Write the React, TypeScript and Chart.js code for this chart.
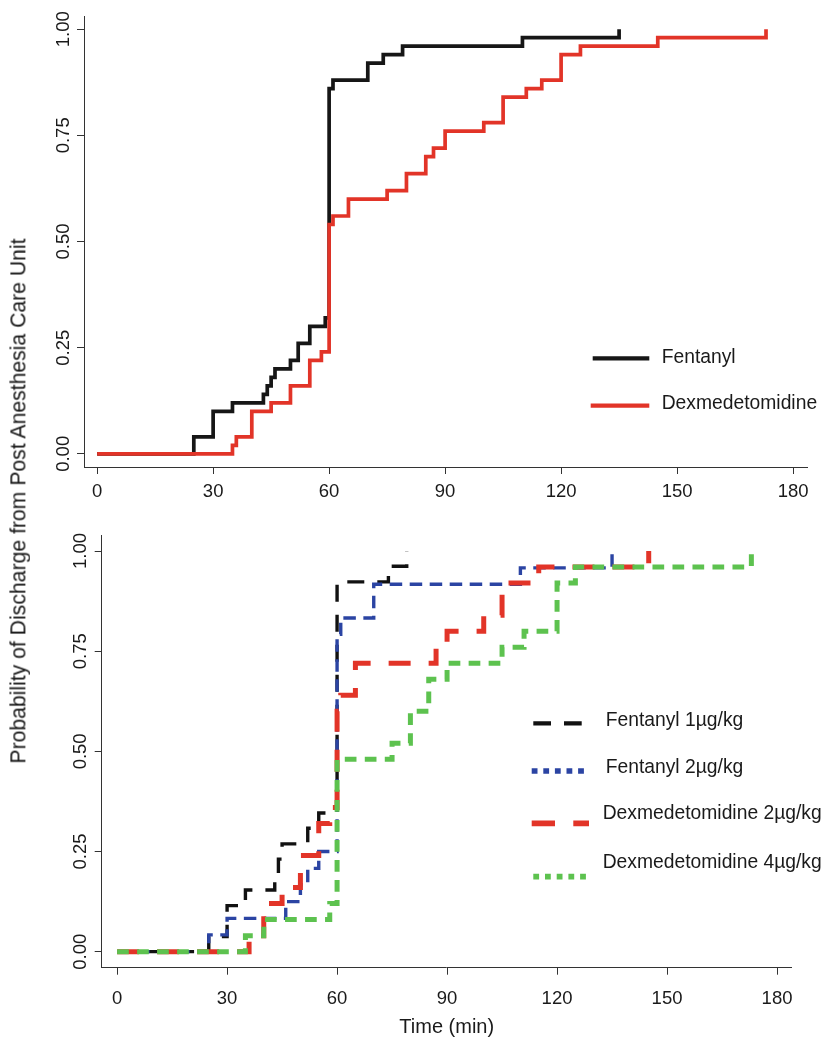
import React, { useEffect, useRef } from "react";
import { Chart, registerables } from "chart.js";

Chart.register(...registerables);

// ---------------- DATA ----------------
const X_TICKS = [0, 30, 60, 90, 120, 150, 180];
const Y_TICKS = [0, 0.25, 0.5, 0.75, 1.0];

// Upper panel (pooled groups)
const FENT_TIME = [0, 25, 30, 35, 43, 44, 45, 46, 50, 52, 55, 59, 60, 61, 70, 74, 79, 110, 135];
const FENT_PROB = [0, 0.04, 0.1, 0.12, 0.14, 0.16, 0.18, 0.2, 0.22, 0.26, 0.3, 0.32, 0.86, 0.88, 0.92, 0.94, 0.96, 0.98, 1.0];
const DEX_TIME = [0, 35, 36, 40, 45, 50, 55, 58, 60, 61, 65, 75, 80, 85, 87, 90, 100, 105, 111, 115, 120, 125, 145, 173];
const DEX_PROB = [0, 0.02, 0.04, 0.1, 0.12, 0.16, 0.22, 0.24, 0.54, 0.56, 0.6, 0.62, 0.66, 0.7, 0.72, 0.76, 0.78, 0.84, 0.86, 0.88, 0.94, 0.96, 0.98, 1.0];

// Lower panel (dose groups)
const F1_TIME = [0, 25, 30, 35, 43, 44, 45, 52, 55, 60, 74, 79];
const F1_PROB = [0, 0.038, 0.115, 0.154, 0.192, 0.231, 0.269, 0.308, 0.346, 0.923, 0.962, 1.0];
const F2_TIME = [0, 25, 30, 46, 50, 52, 55, 60, 61, 70, 110, 135];
const F2_PROB = [0, 0.042, 0.083, 0.125, 0.167, 0.208, 0.25, 0.792, 0.833, 0.917, 0.958, 1.0];
const D2_TIME = [0, 36, 40, 45, 50, 55, 58, 60, 61, 65, 87, 90, 100, 105, 115, 145];
const D2_PROB = [0, 0.04, 0.12, 0.16, 0.24, 0.32, 0.36, 0.6, 0.64, 0.72, 0.76, 0.8, 0.84, 0.92, 0.96, 1.0];
const D4_TIME = [0, 35, 40, 58, 60, 75, 80, 85, 90, 105, 111, 120, 125, 173];
const D4_PROB = [0, 0.04, 0.08, 0.12, 0.48, 0.52, 0.6, 0.68, 0.72, 0.76, 0.8, 0.92, 0.96, 1.0];

const TOP_LABELS = ["Fentanyl", "Dexmedetomidine"];
const BOTTOM_LABELS = ["Fentanyl 1\u00b5g/kg", "Fentanyl 2\u00b5g/kg", "Dexmedetomidine 2\u00b5g/kg", "Dexmedetomidine 4\u00b5g/kg"];
const Y_TITLE = "Probability of Discharge from Post Anesthesia Care Unit";
const X_TITLE = "Time (min)";

// ---------------- STYLE ----------------
const FONT = "'Liberation Sans', Arial, Helvetica, sans-serif";
const TEXT = "#1a1a1a";
const AXIS = "#333333";

type Series = {
  label: string;
  time: number[];
  prob: number[];
  color: string;
  width: number;
  dash: number[];
  order: number;
};

type LegendItem = {
  label: string;
  color: string;
  width: number;
  dash: number[];
  x1: number;
  x2: number;
  y: number;
  tx: number;
  ty: number;
};

type PanelCfg = {
  series: Series[];
  xMin: number;
  xMax: number;
  yMin: number;
  yMax: number;
  yWidth: number;
  xHeight: number;
  padTop: number;
  padRight: number;
  xTickPad: number;
  yTickPad: number;
  xTitle?: string;
  legend: LegendItem[];
};

function legendPlugin(items: LegendItem[]) {
  return {
    id: "manualLegend",
    afterDraw(chart: any) {
      const ctx = chart.ctx as CanvasRenderingContext2D;
      ctx.save();
      items.forEach((it) => {
        ctx.beginPath();
        ctx.setLineDash(it.dash);
        ctx.lineWidth = it.width;
        ctx.strokeStyle = it.color;
        ctx.lineCap = "butt";
        ctx.moveTo(it.x1, it.y);
        ctx.lineTo(it.x2, it.y);
        ctx.stroke();
        ctx.setLineDash([]);
        ctx.fillStyle = TEXT;
        ctx.font = `19.3px ${FONT}`;
        ctx.textAlign = "left";
        ctx.textBaseline = "middle";
        ctx.fillText(it.label, it.tx, it.ty);
      });
      ctx.restore();
    },
  };
}

function buildConfig(p: PanelCfg): any {
  return {
    type: "line",
    data: {
      datasets: p.series.map((s) => ({
        label: s.label,
        data: s.time.map((t, i) => ({ x: t, y: s.prob[i] })),
        borderColor: s.color,
        backgroundColor: s.color,
        borderWidth: s.width,
        borderDash: s.dash,
        borderCapStyle: "butt",
        borderJoinStyle: "miter",
        stepped: "before",
        pointRadius: 0,
        pointHoverRadius: 0,
        fill: false,
        tension: 0,
        order: s.order,
      })),
    },
    options: {
      animation: false,
      responsive: false,
      maintainAspectRatio: false,
      events: [],
      layout: { padding: { top: p.padTop, right: p.padRight, left: 0, bottom: 0 } },
      plugins: {
        legend: { display: false },
        tooltip: { enabled: false },
        title: { display: false },
      },
      scales: {
        x: {
          type: "linear",
          min: p.xMin,
          max: p.xMax,
          afterBuildTicks: (s: any) => {
            s.ticks = X_TICKS.map((v) => ({ value: v }));
          },
          afterFit: (s: any) => {
            s.height = p.xHeight;
          },
          grid: {
            display: true,
            drawOnChartArea: false,
            drawTicks: true,
            tickLength: 7,
            color: AXIS,
            lineWidth: 1,
          },
          border: { display: true, color: AXIS, width: 1 },
          ticks: {
            color: TEXT,
            font: { family: FONT, size: 18.5 },
            padding: p.xTickPad,
            maxRotation: 0,
            minRotation: 0,
            callback: (v: any) => String(v),
          },
          title: p.xTitle
            ? {
                display: true,
                text: p.xTitle,
                color: TEXT,
                font: { family: FONT, size: 20 },
                padding: { top: 0, bottom: 0 },
              }
            : { display: false },
        },
        y: {
          type: "linear",
          min: p.yMin,
          max: p.yMax,
          afterBuildTicks: (s: any) => {
            s.ticks = Y_TICKS.map((v) => ({ value: v }));
          },
          afterFit: (s: any) => {
            s.width = p.yWidth;
          },
          grid: {
            display: true,
            drawOnChartArea: false,
            drawTicks: true,
            tickLength: 7,
            color: AXIS,
            lineWidth: 1,
          },
          border: { display: true, color: AXIS, width: 1 },
          ticks: {
            color: TEXT,
            font: { family: FONT, size: 18.5 },
            padding: p.yTickPad,
            minRotation: 90,
            maxRotation: 90,
            crossAlign: "center",
            callback: (v: any) => Number(v).toFixed(2),
          },
        },
      },
    },
    plugins: [legendPlugin(p.legend)],
  };
}

const TOP_SERIES: Series[] = [
  { label: TOP_LABELS[0], time: FENT_TIME, prob: FENT_PROB, color: "#161616", width: 3.7, dash: [], order: 2 },
  { label: TOP_LABELS[1], time: DEX_TIME, prob: DEX_PROB, color: "#e23428", width: 3.7, dash: [], order: 1 },
];

const BOTTOM_SERIES: Series[] = [
  { label: BOTTOM_LABELS[0], time: F1_TIME, prob: F1_PROB, color: "#111111", width: 3.4, dash: [17, 13], order: 4 },
  { label: BOTTOM_LABELS[1], time: F2_TIME, prob: F2_PROB, color: "#2b44a3", width: 3.4, dash: [12.5, 7.5], order: 3 },
  { label: BOTTOM_LABELS[2], time: D2_TIME, prob: D2_PROB, color: "#e23428", width: 5, dash: [22, 18], order: 2 },
  { label: BOTTOM_LABELS[3], time: D4_TIME, prob: D4_PROB, color: "#5dc24f", width: 5, dash: [11.7, 8.3], order: 1 },
];

const TOP_LEGEND: LegendItem[] = [
  { label: TOP_LABELS[0], color: "#161616", width: 4.3, dash: [], x1: 592.7, x2: 649.3, y: 358.3, tx: 661.7, ty: 357.5 },
  { label: TOP_LABELS[1], color: "#e23428", width: 4.3, dash: [], x1: 590.7, x2: 649.3, y: 405.7, tx: 661.7, ty: 404 },
];

const BOTTOM_LEGEND: LegendItem[] = [
  { label: BOTTOM_LABELS[0], color: "#111111", width: 4.3, dash: [17.7, 13], x1: 533.3, x2: 582.3, y: 203.3, tx: 605.7, ty: 200.3 },
  { label: BOTTOM_LABELS[1], color: "#2b44a3", width: 5.5, dash: [5.8, 5.8], x1: 531.7, x2: 584.3, y: 251, tx: 605.7, ty: 247.5 },
  { label: BOTTOM_LABELS[2], color: "#e23428", width: 5.8, dash: [23.3, 18.3], x1: 531.7, x2: 589, y: 303.3, tx: 602.7, ty: 293.8 },
  { label: BOTTOM_LABELS[3], color: "#5dc24f", width: 5.8, dash: [5.8, 5.9], x1: 533.3, x2: 586, y: 356.7, tx: 602.7, ty: 342.2 },
];

export default function App() {
  const topRef = useRef<HTMLCanvasElement>(null);
  const botRef = useRef<HTMLCanvasElement>(null);

  useEffect(() => {
    document.body.style.margin = "0";
    document.body.style.background = "#ffffff";
    const c1 = new Chart(
      topRef.current as HTMLCanvasElement,
      buildConfig({
        series: TOP_SERIES,
        xMin: -3.4,
        xMax: 183.6,
        yMin: -0.031,
        yMax: 1.031,
        yWidth: 84,
        xHeight: 53,
        padTop: 16,
        padRight: 16,
        xTickPad: 7,
        yTickPad: -5,
        legend: TOP_LEGEND,
      })
    );
    const c2 = new Chart(
      botRef.current as HTMLCanvasElement,
      buildConfig({
        series: BOTTOM_SERIES,
        xMin: -4.2,
        xMax: 184,
        yMin: -0.04,
        yMax: 1.04,
        yWidth: 101.7,
        xHeight: 71.3,
        padTop: 15,
        padRight: 31.3,
        xTickPad: 13,
        yTickPad: -4,
        xTitle: X_TITLE,
        legend: BOTTOM_LEGEND,
      })
    );
    return () => {
      c1.destroy();
      c2.destroy();
    };
  }, []);

  return (
    <div style={{ position: "relative", width: 823, height: 1039, background: "#fff", overflow: "hidden" }}>
      <canvas ref={topRef} width={823} height={520} style={{ position: "absolute", left: 0, top: 0, width: 823, height: 520 }} />
      <canvas ref={botRef} width={823} height={519} style={{ position: "absolute", left: 0, top: 520, width: 823, height: 519 }} />
      <div
        style={{
          position: "absolute",
          left: 18,
          top: 501,
          transform: "translate(-50%, -50%) rotate(-90deg)",
          whiteSpace: "nowrap",
          fontFamily: FONT,
          fontSize: 21.2,
          color: TEXT,
          lineHeight: 1,
        }}
      >
        {Y_TITLE}
      </div>
    </div>
  );
}
